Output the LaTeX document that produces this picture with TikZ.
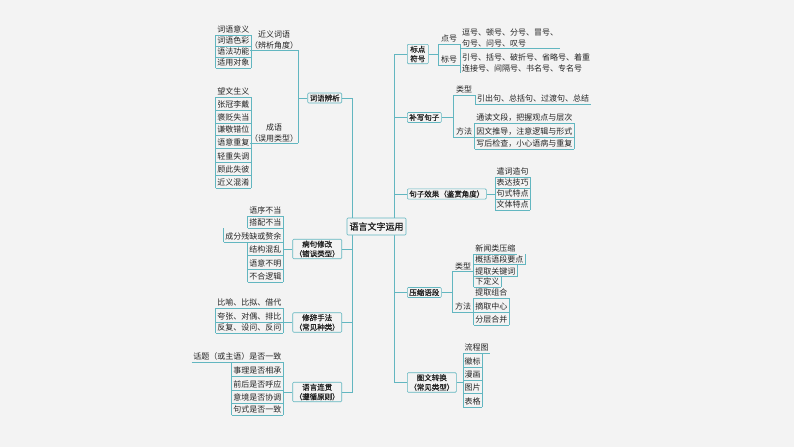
\documentclass[tikz,border=0pt]{standalone}
\usepackage{fontspec}
\newfontfamily\cjk{Noto Sans CJK SC}
\newfontfamily\cjkb[FakeBold=1.2]{Noto Sans CJK SC}
\definecolor{bgc}{RGB}{243,243,243}
\definecolor{ln}{RGB}{98,182,192}
\definecolor{tx}{RGB}{35,35,35}
\tikzset{
 conn/.style={draw=ln,line width=0.6pt},
 leafR/.style={anchor=west,inner xsep=1.5pt,inner ysep=1pt,text height=6.5pt,text depth=1.5pt,font=\cjk\fontsize{8}{10}\selectfont,text=tx},
 leafL/.style={leafR,anchor=east},
 labR/.style={leafR,inner xsep=3pt},
 lab2/.style={anchor=south,inner xsep=0pt,inner ysep=1pt,minimum width=46pt,align=center,font=\cjk\fontsize{8}{11}\selectfont,text=tx},
 leaf2/.style={anchor=south west,inner xsep=1.5pt,inner ysep=1pt,align=left,font=\cjk\fontsize{8}{10.5}\selectfont,text=tx},
 mbox/.style={draw=ln,fill=bgc,line width=0.6pt,rounded corners=1pt,inner xsep=2pt,inner ysep=1.5pt,align=center,font=\cjkb\fontsize{7.5}{9.5}\selectfont,text=tx},
}
\newcommand\Lgrp[3]{\foreach \yy/\txt [count=\i] in {#3}{%
 \node[leafL] (#1\i) at (#2,\yy) {\txt};
 \draw[conn] (#1\i.south west) -- (#1\i.south east);
 \ifnum\i>1\relax\pgfmathtruncatemacro\jprev{\i-1}\draw[conn] (#1\i.south west) -- (#1\i.south west |- #1\jprev.south);\fi}}
\newcommand\Rgrp[3]{\foreach \yy/\txt [count=\i] in {#3}{%
 \node[leafR] (#1\i) at (#2,\yy) {\txt};
 \draw[conn] (#1\i.south west) -- (#1\i.south east);
 \ifnum\i>1\relax\pgfmathtruncatemacro\jprev{\i-1}\draw[conn] (#1\i.south east) -- (#1\i.south east |- #1\jprev.south);\fi}}
\begin{document}
\begin{tikzpicture}[x=1pt,y=-1pt]
\fill[bgc] (0,0) rectangle (794,447);
\useasboundingbox (0,0) rectangle (794,447);
\coordinate (LT) at (352,0);
\coordinate (RT) at (394,0);
% ---------------- left side ----------------
\node[mbox,anchor=east] (cyjx) at (342,98) {词语辨析};
\node[mbox,anchor=east] (bjxg) at (342,249) {病句修改\\（错误类型）};
\node[mbox,anchor=east] (xcsf) at (342,322.5) {修辞手法\\（常见种类）};
\node[mbox,anchor=east] (yylg) at (342,392) {语言连贯\\（遵循原则）};
\draw[conn] (cyjx.east) -- (LT |- cyjx.east) -- (LT |- yylg.east) -- (yylg.east);
\draw[conn] (bjxg.east) -- (LT |- bjxg.east);
\draw[conn] (xcsf.east) -- (LT |- xcsf.east);
% near-synonyms
\Lgrp{a}{251}{30/词语意义,41/词语色彩,52/语法功能,63/适用对象}
\node[lab2] (jy) at (274,50) {近义词语\\（辨析角度）};
\draw[conn] (a1.south east) -- (a4.south east);
\draw[conn] (jy.south west) -- (jy.south east);
% idioms
\Lgrp{b}{251}{92/望文生义,105/张冠李戴,118/褒贬失当,130/谦敬错位,143/语意重复,157/轻重失调,170/顾此失彼,183/近义混淆}
\node[lab2] (cy) at (274,143) {成语\\（误用类型）};
\draw[conn] (b1.south east) -- (b8.south east);
\draw[conn] (cy.south west) -- (cy.south east);
\draw[conn] (jy.south east) -- (cy.south east);
\draw[conn] (cyjx.west) -- (cyjx.west -| cy.south east);
% faulty sentences
\Lgrp{c}{283}{211/语序不当,223/搭配不当,237/成分残缺或赘余,250/结构混乱,264/语意不明,277/不合逻辑}
\draw[conn] (c1.south east) -- (c6.south east);
\draw[conn] (bjxg.west) -- (bjxg.west -| c1.south east);
% rhetoric
\Lgrp{d}{283}{303/比喻、比拟、借代,317/夸张、对偶、排比,328/反复、设问、反问}
\draw[conn] (d1.south east) -- (d3.south east);
\draw[conn] (xcsf.west) -- (xcsf.west -| d1.south east);
% coherence
\Lgrp{e}{283}{357/话题（或主语）是否一致,371/事理是否相承,385/前后是否呼应,398/意境是否协调,410/句式是否一致}
\draw[conn] (e1.south east) -- (e5.south east);
\draw[conn] (yylg.west) -- (yylg.west -| e1.south east);
% ---------------- right side ----------------
\node[mbox,anchor=west,inner xsep=3pt] (bdfh) at (407,54) {标点\\符号};
\node[mbox,anchor=west] (bxjz) at (407,117.5) {补写句子};
\node[mbox,anchor=west] (jzxg) at (407,194) {句子效果（鉴赏角度）};
\node[mbox,anchor=west] (ysyd) at (407,292.5) {压缩语段};
\node[mbox,anchor=west] (twzh) at (407,382.5) {图文转换\\（常见类型）};
\draw[conn] (bdfh.west) -- (RT |- bdfh.west) -- (RT |- twzh.west) -- (twzh.west);
\draw[conn] (bxjz.west) -- (RT |- bxjz.west);
\draw[conn] (jzxg.west) -- (RT |- jzxg.west);
\draw[conn] (ysyd.west) -- (RT |- ysyd.west);
% punctuation
\node[labR] (dh) at (438,39) {点号};
\node[labR] (bh) at (438,60) {标号};
\draw[conn] (dh.south west) -- (dh.south east);
\draw[conn] (bh.south west) -- (bh.south east);
\draw[conn] (dh.south west) -- (bh.south west);
\draw[conn] (bdfh.east) -- (bdfh.east -| dh.south west);
\node[leaf2] (dhl) at (dh.south east |- 0,48) {逗号、顿号、分号、冒号、\\句号、问号、叹号};
\draw[conn] (dh.south east) -- (dhl.south west) -- (dhl.south east);
\node[leaf2] (bhl) at (bh.south east |- 0,73) {引号、括号、破折号、省略号、着重\\连接号、间隔号、书名号、专名号};
\draw[conn] (bhl.south west |- dhl.south) -- (bhl.south west);
% supplementary sentences
\node[labR] (bl1) at (453,90) {类型};
\node[labR] (bf1) at (453,132) {方法};
\draw[conn] (bl1.south west) -- (bl1.south east);
\draw[conn] (bf1.south west) -- (bf1.south east);
\draw[conn] (bl1.south west) -- (bf1.south west);
\draw[conn] (bxjz.east) -- (bxjz.east -| bl1.south west);
\node[leafR] (g1) at (bl1.south east |- 0,99) {引出句、总括句、过渡句、总结};
\draw[conn] (bl1.south east) -- (g1.south west) -- (g1.south east);
\Rgrp{h}{474.6}{118/通读文段，把握观点与层次,132/因文推导，注意逻辑与形式,144/写后检查，小心语病与重复}
\draw[conn] (h1.south west) -- (h3.south west);
% sentence effect
\Rgrp{k}{495}{172/遣词造句,183/表达技巧,194/句式特点,205/文体特点}
\draw[conn] (k1.south west) -- (k4.south west);
\draw[conn] (jzxg.east) -- (jzxg.east -| k1.south west);
% compression
\node[labR] (yl1) at (452,266.5) {类型};
\node[labR] (yf1) at (452,307) {方法};
\draw[conn] (yl1.south west) -- (yl1.south east);
\draw[conn] (yf1.south west) -- (yf1.south east);
\draw[conn] (yl1.south west) -- (yf1.south west);
\draw[conn] (ysyd.east) -- (ysyd.east -| yl1.south west);
\Rgrp{m}{473.6}{249/新闻类压缩,259.5/概括语段要点,271.5/提取关键词,282/下定义}
\draw[conn] (m1.south west) -- (m4.south west);
\Rgrp{n}{473.6}{293/提取组合,307/摘取中心,320/分层合并}
\draw[conn] (n1.south west) -- (n3.south west);
% picture-text conversion
\Rgrp{p}{463}{348/流程图,362/徽标,375/漫画,388/图片,402/表格}
\draw[conn] (p1.south west) -- (p5.south west);
\draw[conn] (twzh.east) -- (twzh.east -| p1.south west);
% ---------------- root ----------------
\node[mbox,font=\cjkb\fontsize{9}{10}\selectfont,minimum width=59pt,minimum height=17pt] (root) at (376.5,226.5) {语言文字运用};
\end{tikzpicture}
\end{document}
